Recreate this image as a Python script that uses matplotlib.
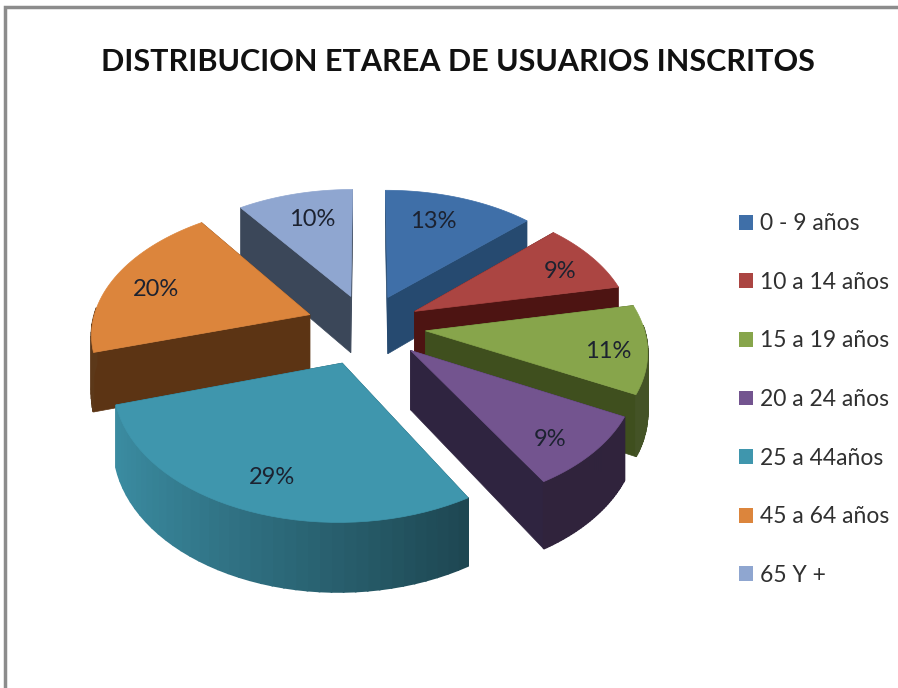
import numpy as np
import matplotlib
matplotlib.use("Agg")
import matplotlib.pyplot as plt
from matplotlib.patches import Polygon, Patch

plt.rcParams['font.family'] = ['Lato', 'DejaVu Sans']

# data
groups = ['0 - 9 años', '10 a 14 años', '15 a 19 años', '20 a 24 años',
          '25 a 44años', '45 a 64 años', '65 Y +']
percent = [13, 9, 11, 9, 29, 20, 10]
title = 'DISTRIBUCION ETAREA DE USUARIOS INSCRITOS'

# style
top_colors = ['#3f6fa8', '#ab4542', '#87a54b', '#73548f', '#3f96ad', '#dc853c', '#8fa6d0']
wall_colors = ['#264a70', '#4d1412', '#3f4f1e', '#2f2440', '#1d4f5c', '#5c3414', '#3b4759']
rim_left = [0.6, 0.45, 0.5, 0.42, 0.95, 0.42, 0.45]
rim_right = [0.6, 0.45, 0.5, 0.42, 0.32, 0.42, 0.45]
explode = [0.25, 0.25, 0.27, 0.27, 0.3, 0.28, 0.25]
label_xy = [(433, 222), (560, 272), (608, 352), (550, 440), (272, 478), (156, 290), (312, 220)]

# projection of the tilted disc to the picture
CX, CY = 367, 326
RX, RY = 218, 128
KX, KY = 0.13, 0.13
DEPTH = 58


def project(u, v, w=0.0):
    sx = 1 / (1 + KX * v)
    sy = 1 / (1 + KY * v)
    return CX + RX * u * sx, CY - RY * v * sy + DEPTH * w * sy


def shade(color, f):
    rgb = np.array(matplotlib.colors.to_rgb(color))
    return tuple(np.clip(rgb * f, 0, 1))


fig = plt.figure(figsize=(8.98, 6.88), dpi=100)
ax = fig.add_axes([0, 0, 1, 1])
ax.set_xlim(0, 898)
ax.set_ylim(688, 0)
ax.axis('off')

# frame of the slide
ax.plot([5, 5, 897], [688, 7, 7], color='#8c8c8c', lw=2.5, solid_joinstyle='miter')

total = sum(percent)
edges = np.cumsum([0] + percent) / total * 2 * np.pi

slices = []
for i in range(len(percent)):
    mid = (edges[i] + edges[i + 1]) / 2
    slices.append((np.cos(mid), i))
# back slices first
for _, i in sorted(slices, reverse=True):
    a0, a1 = edges[i], edges[i + 1]
    mid = (a0 + a1) / 2
    ou, ov = explode[i] * np.sin(mid), explode[i] * np.cos(mid)
    th = np.linspace(a0, a1, 40)
    uu = ou + np.sin(th)
    vv = ov + np.cos(th)

    # radial walls
    for a in (a0, a1):
        eu, ev = ou + np.sin(a), ov + np.cos(a)
        pts = [project(ou, ov), project(eu, ev), project(eu, ev, 1), project(ou, ov, 1)]
        ax.add_patch(Polygon(pts, closed=True, fc=wall_colors[i], ec=wall_colors[i], lw=0.5))

    # outer rim, only the part facing the viewer
    for j in range(len(th) - 1):
        if np.cos((th[j] + th[j + 1]) / 2) > 0.05:
            continue
        t = (np.sin(th[j]) + 1) / 2
        f = rim_left[i] + (rim_right[i] - rim_left[i]) * t
        c = shade(top_colors[i], f)
        pts = [project(uu[j], vv[j]), project(uu[j + 1], vv[j + 1]),
               project(uu[j + 1], vv[j + 1], 1), project(uu[j], vv[j], 1)]
        ax.add_patch(Polygon(pts, closed=True, fc=c, ec=c, lw=1.2))

    # top face
    pts = [project(ou, ov)] + [project(a, b) for a, b in zip(uu, vv)]
    ax.add_patch(Polygon(pts, closed=True, fc=top_colors[i], ec=top_colors[i], lw=0.5))

for p, (x, y) in zip(percent, label_xy):
    ax.text(x, y, f'{p}%', ha='center', va='center', fontsize=17, color='#1c2230')

ax.text(458, 62, title, ha='center', va='center', fontsize=22, fontweight='bold', color='#111111')

handles = [Patch(fc=c, ec='none') for c in top_colors]
ax.legend(handles, groups, loc='upper left', bbox_to_anchor=(0.823, 0.69), frameon=False,
          fontsize=16.5, labelcolor='#303030', handlelength=0.62, handleheight=0.62,
          handletextpad=0.3, labelspacing=1.64, borderpad=0, borderaxespad=0)

fig.savefig('out.png', dpi=100)
